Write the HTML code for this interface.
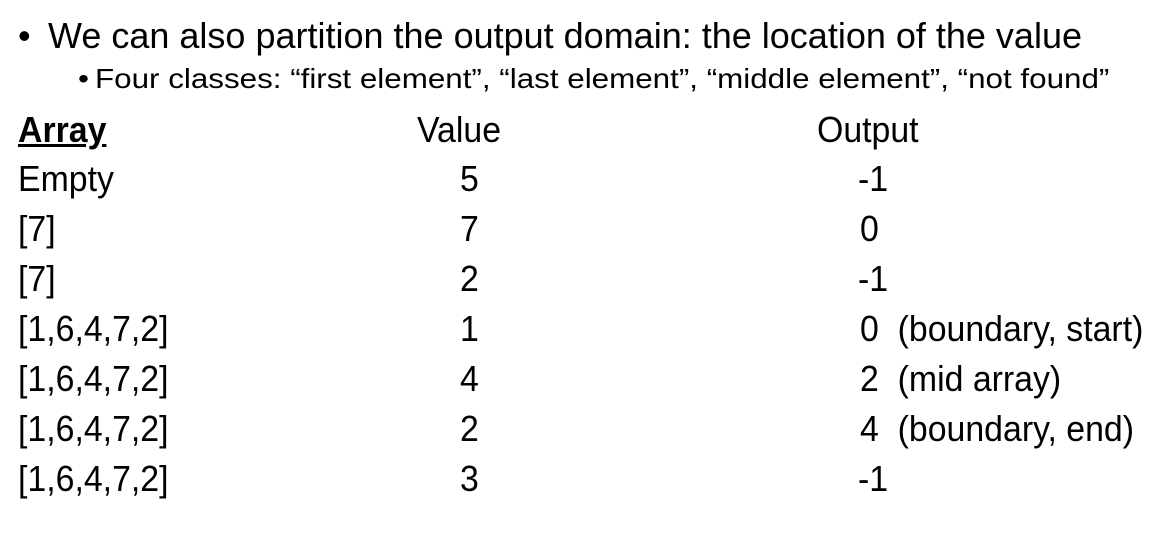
<!DOCTYPE html>
<html><head><meta charset="utf-8"><style>
html,body{margin:0;padding:0;background:#fff;width:1160px;height:536px;overflow:hidden;position:relative}
div{position:absolute;white-space:nowrap;font-family:"Liberation Sans",sans-serif;color:#000;line-height:1;transform-origin:0 0}
.h{font-size:36px;transform:scaleX(1.0)}
.t{font-size:36px;transform:scaleX(0.94)}
.s{font-size:28px;transform:scaleX(1.12)}
</style></head><body>
<div class="h" style="left:18px;top:18px">•</div>
<div class="h" style="left:48px;top:18px">We can also partition the output domain: the location of the value</div>
<div class="s" style="left:78px;top:65px">•</div>
<div class="s" style="left:95px;top:65px">Four classes: “first element”, “last element”, “middle element”, “not found”</div>

<div class="t" style="left:18px;top:112px;font-weight:bold;text-decoration:underline">Array</div>
<div class="t" style="left:417px;top:112px">Value</div>
<div class="t" style="left:817px;top:112px">Output</div>

<div class="t" style="left:18px;top:161px">Empty</div>
<div class="t" style="left:460px;top:161px">5</div>
<div class="t" style="left:858px;top:161px">-1</div>

<div class="t" style="left:18px;top:211px">[7]</div>
<div class="t" style="left:460px;top:211px">7</div>
<div class="t" style="left:860px;top:211px">0</div>

<div class="t" style="left:18px;top:261px">[7]</div>
<div class="t" style="left:460px;top:261px">2</div>
<div class="t" style="left:858px;top:261px">-1</div>

<div class="t" style="left:18px;top:311px">[1,6,4,7,2]</div>
<div class="t" style="left:460px;top:311px">1</div>
<div class="t" style="left:860px;top:311px">0&nbsp; (boundary, start)</div>

<div class="t" style="left:18px;top:361px">[1,6,4,7,2]</div>
<div class="t" style="left:460px;top:361px">4</div>
<div class="t" style="left:860px;top:361px">2&nbsp; (mid array)</div>

<div class="t" style="left:18px;top:411px">[1,6,4,7,2]</div>
<div class="t" style="left:460px;top:411px">2</div>
<div class="t" style="left:860px;top:411px">4&nbsp; (boundary, end)</div>

<div class="t" style="left:18px;top:461px">[1,6,4,7,2]</div>
<div class="t" style="left:460px;top:461px">3</div>
<div class="t" style="left:858px;top:461px">-1</div>
</body></html>
